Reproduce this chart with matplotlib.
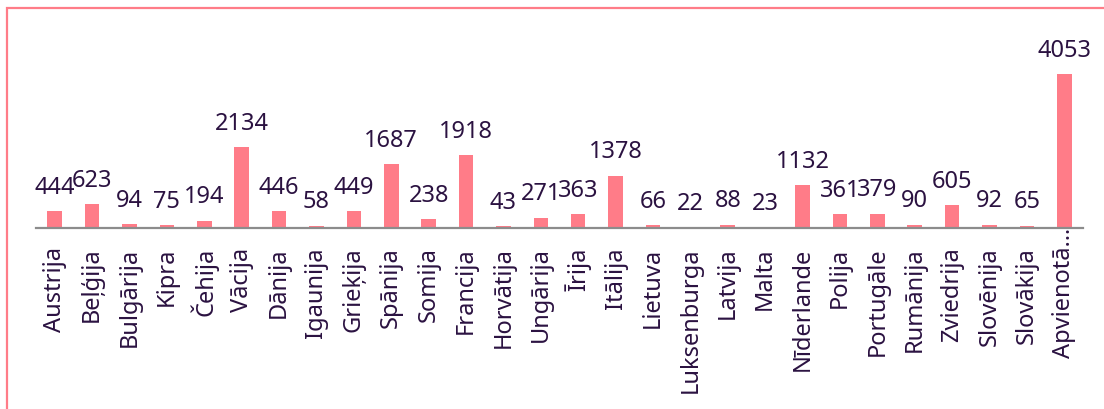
import matplotlib.pyplot as plt
from matplotlib.patches import Rectangle
from matplotlib.transforms import ScaledTranslation

countries = [
    "Austrija", "Beļģija", "Bulgārija", "Kipra", "Čehija", "Vācija", "Dānija",
    "Igaunija", "Grieķija", "Spānija", "Somija", "Francija", "Horvātija",
    "Ungārija", "Īrija", "Itālija", "Lietuva", "Luksenburga", "Latvija",
    "Malta", "Nīderlande", "Polija", "Portugāle", "Rumānija", "Zviedrija",
    "Slovēnija", "Slovākija", "Apvienotā…",
]
values = [
    444, 623, 94, 75, 194, 2134, 446, 58, 449, 1687, 238, 1918, 43,
    271, 363, 1378, 66, 22, 88, 23, 1132, 361, 379, 90, 605, 92, 65, 4053,
]

BAR = "#ff7c88"
TXT = "#2b1241"

plt.rcParams["font.family"] = ["Noto Sans", "DejaVu Sans"]

fig = plt.figure(figsize=(11.04, 4.09), dpi=100)
W, H = 1104, 409

# pink frame (only left/top visible, rest runs off the picture)
fig.patches.append(Rectangle((6.5 / W, -0.1), 1.2, (H - 8.5) / H + 0.1,
                             transform=fig.transFigure, fill=False,
                             edgecolor=BAR, linewidth=1.6))

ax = fig.add_axes([36 / W, (H - 228) / H, (1083 - 36) / W, 208 / H])
x = range(len(countries))
ax.bar(x, values, width=0.39, color=BAR, zorder=2)
ax.set_xlim(-0.5, len(countries) - 0.5)
ax.set_ylim(0, 4053 * 208 / 154)

for i, v in zip(x, values):
    ax.annotate(str(v), (i, v), xytext=(0, 12.5), textcoords="offset points",
                ha="center", va="baseline", fontsize=17, color=TXT)

ax.set_xticks(list(x))
labels = ax.set_xticklabels(countries, rotation=90, fontsize=17, color=TXT)
ax.tick_params(axis="x", length=0, pad=14)
# truncated last label: the dots stick out above the others
labels[-1].set_transform(labels[-1].get_transform()
                         + ScaledTranslation(0, 0.2, fig.dpi_scale_trans))
ax.set_yticks([])
for s in ["top", "right", "left"]:
    ax.spines[s].set_visible(False)
ax.spines["bottom"].set_color("#8c8c8c")
ax.spines["bottom"].set_linewidth(1.6)
ax.patch.set_alpha(0)

fig.savefig("out.png", dpi=100)
